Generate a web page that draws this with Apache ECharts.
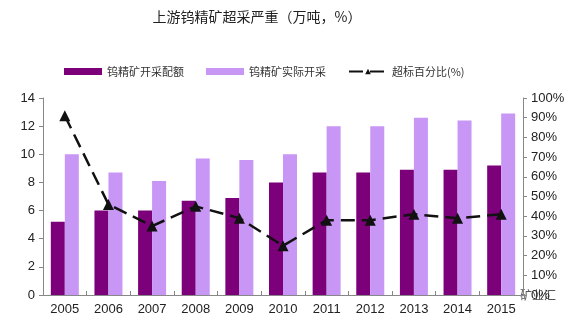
<!DOCTYPE html>
<html><head><meta charset="utf-8">
<script src="https://cdn.jsdelivr.net/npm/echarts@6/dist/echarts.min.js"></script>
<style>html,body{margin:0;padding:0;background:#fff}#c{width:580px;height:324px}</style>
</head><body><div id="c"></div>
<script>
const categories = ['2005','2006','2007','2008','2009','2010','2011','2012','2013','2014','2015'];
const quota = [5.2, 6.0, 6.0, 6.7, 6.9, 8.0, 8.7, 8.7, 8.9, 8.9, 9.2];
const actual = [10.0, 8.7, 8.1, 9.7, 9.6, 10.0, 12.0, 12.0, 12.6, 12.4, 12.9];
const overPct = [91, 46, 35, 45, 39, 25, 38, 38, 41, 39, 41];
const seriesNames = ['钨精矿开采配额', '钨精矿实际开采', '超标百分比(%)'];
const titleText = '上游钨精矿超采严重（万吨，%）';

const font = '"Noto Sans CJK SC", "Liberation Sans", sans-serif';
const chart = echarts.init(document.getElementById('c'));
chart.setOption({
  animation: false,
  title: { text: titleText, left: 252, top: 5, textAlign: 'center',
    textStyle: { fontSize: 14, fontWeight: 'normal', color: '#222', fontFamily: font } },
  legend: {
    top: 61, left: 59, itemGap: 22, itemWidth: 38, itemHeight: 7,
    textStyle: { fontSize: 11, color: '#333', fontFamily: font },
    data: [
      { name: seriesNames[0], icon: 'rect' },
      { name: seriesNames[1], icon: 'rect' },
      { name: seriesNames[2] }
    ]
  },
  grid: { left: 43, right: 57, top: 98, bottom: 29 },
  xAxis: {
    type: 'category', data: categories,
    axisLine: { lineStyle: { color: '#888' } },
    axisTick: { show: true, alignWithLabel: false, length: 4, inside: true, lineStyle: { color: '#888' } },
    axisLabel: { fontSize: 13, color: '#222', fontFamily: '"Liberation Sans", Arial, sans-serif', margin: 8 }
  },
  yAxis: [
    { type: 'value', min: 0, max: 14, interval: 2,
      axisLine: { show: true, lineStyle: { color: '#888' } },
      axisTick: { show: true, length: 4, lineStyle: { color: '#888' } },
      splitLine: { show: false },
      axisLabel: { fontSize: 13, color: '#222', fontFamily: '"Liberation Sans", Arial, sans-serif', margin: 8 } },
    { type: 'value', min: 0, max: 100, interval: 10,
      axisLine: { show: true, lineStyle: { color: '#888' } },
      axisTick: { show: true, length: 4, lineStyle: { color: '#888' } },
      splitLine: { show: false },
      axisLabel: { fontSize: 13, color: '#222', formatter: '{value}%', fontFamily: '"Liberation Sans", Arial, sans-serif', margin: 8 } }
  ],
  series: [
    { name: seriesNames[0], type: 'bar', data: quota, barWidth: 14, barGap: '0%',
      itemStyle: { color: '#7b0079' } },
    { name: seriesNames[1], type: 'bar', data: actual, barWidth: 14, barGap: '0%',
      itemStyle: { color: '#c896f5' } },
    { name: seriesNames[2], type: 'line', yAxisIndex: 1, data: overPct,
      symbol: 'triangle', symbolSize: 11,
      itemStyle: { color: '#111' },
      lineStyle: { color: '#111', width: 2.5, type: [14, 7] } }
  ],
  graphic: [
    { type: 'text', left: 520, top: 289, style: { text: '矿业汇', fill: '#555', font: '12px "Noto Sans CJK SC"' } }
  ]
});
</script></body></html>
